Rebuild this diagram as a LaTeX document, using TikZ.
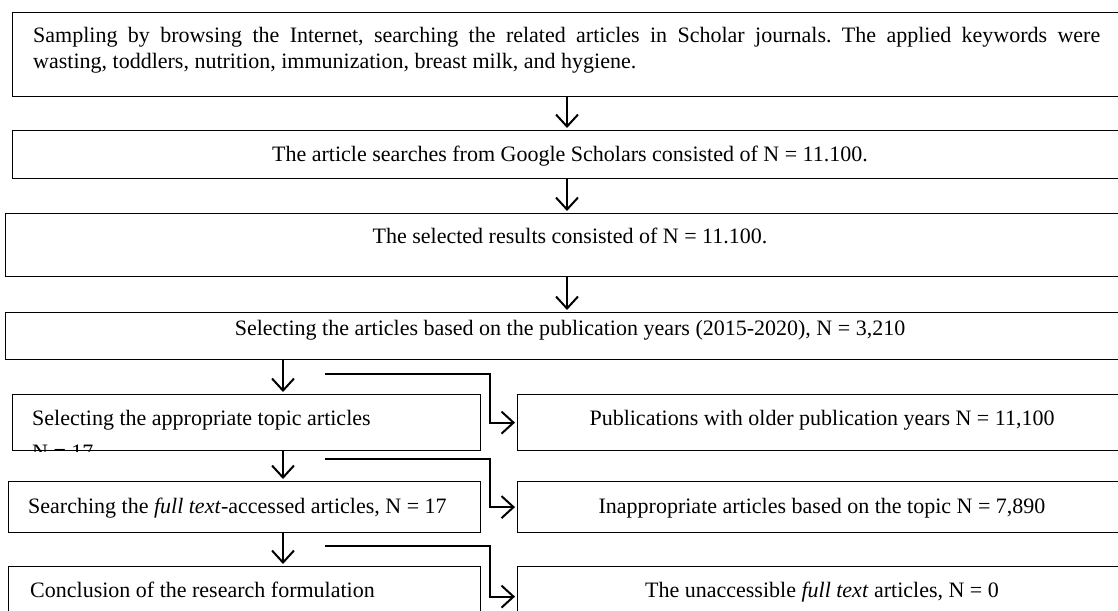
\documentclass[tikz,border=0pt]{standalone}
\usepackage{fontspec}
\setmainfont{Liberation Serif}
\usetikzlibrary{arrows.meta}
\frenchspacing
\begin{document}
\begin{tikzpicture}[x=1pt,y=-1pt,
  box/.style={draw, line width=1.2pt, inner sep=0pt, anchor=north west},
  txt/.style={font=\fontsize{22}{26}\selectfont, inner sep=0pt},
  flow/.style={line width=2pt, shorten >=2pt, -{Straight Barb[length=12pt,width=22pt]}}]
\useasboundingbox (0,0) rectangle (1118,610);
\clip (0,0) rectangle (1118,610);
% boxes
\node[box, minimum width=1130pt, minimum height=84pt] (b1) at (12,12) {};
\node[box, minimum width=1130pt, minimum height=48pt] (b2) at (12,130) {};
\node[box, minimum width=1140pt, minimum height=63pt] (b3) at (5,213) {};
\node[box, minimum width=1140pt, minimum height=47pt] (b4) at (5,312) {};
\node[box, minimum width=468pt, minimum height=56pt] (b5) at (12,394) {};
\node[box, minimum width=472pt, minimum height=51pt] (b6) at (8,481) {};
\node[box, minimum width=472pt, minimum height=60pt] (b7) at (8,566) {};
\node[box, minimum width=620pt, minimum height=56pt] (r1) at (517,394) {};
\node[box, minimum width=620pt, minimum height=51pt] (r2) at (517,481) {};
\node[box, minimum width=620pt, minimum height=60pt] (r3) at (517,566) {};
% texts
\node[txt, anchor=base west] (t1) at (33,43) {\hbox to 1067pt{Sampling by browsing the Internet, searching the related articles in Scholar journals. The applied keywords were}};
\node[txt, anchor=base west] (t1b) at (33,68) {wasting, toddlers, nutrition, immunization, breast milk, and hygiene.};
\node[txt, anchor=base] (t2) at (570,161) {The article searches from Google Scholars consisted of N = 11.100.};
\node[txt, anchor=base] (t3) at (570,243) {The selected results consisted of N = 11.100.};
\node[txt, anchor=base] (t4) at (570,335) {Selecting the articles based on the publication years (2015-2020), N = 3,210};
\begin{scope}
\clip (b5.south west) rectangle (b5.north east);
\node[txt, anchor=base west] (t5) at (32,425) {Selecting the appropriate topic articles};
\node[txt, anchor=base west] (t5b) at (32,459) {N = 17};
\end{scope}
\node[txt, anchor=base west] (t6) at (28,513) {Searching the \textit{full text}-accessed articles, N = 17};
\node[txt, anchor=base west] (t7) at (30,597) {Conclusion of the research formulation};
\node[txt, anchor=base] (s1) at (822,425) {Publications with older publication years N = 11,100};
\node[txt, anchor=base] (s2) at (822,513) {Inappropriate articles based on the topic N = 7,890};
\node[txt, anchor=base] (s3) at (822,597) {The unaccessible \textit{full text} articles, N = 0};
% helper coordinates
\coordinate (mx) at (567,0);
\coordinate (lx) at (283,0);
\coordinate (vx) at (490,0);
\coordinate (e1) at (325,374);
\coordinate (e2) at (325,459);
\coordinate (e3) at (325,546);
% vertical arrows
\draw[flow] (mx |- b1.south) -- (mx |- b2.north);
\draw[flow] (mx |- b2.south) -- (mx |- b3.north);
\draw[flow] (mx |- b3.south) -- (mx |- b4.north);
\draw[flow] (lx |- b4.south) -- (lx |- b5.north);
\draw[flow] (lx |- b5.south) -- (lx |- b6.north);
\draw[flow] (lx |- b6.south) -- (lx |- b7.north);
% elbow arrows
\draw[flow] (e1) -- (e1 -| vx) -- (vx |- r1.west) -- (r1.west);
\draw[flow] (e2) -- (e2 -| vx) -- (vx |- r2.west) -- (r2.west);
\draw[flow] (e3) -- (e3 -| vx) -- (vx |- r3.west) -- (r3.west);
\end{tikzpicture}
\end{document}
